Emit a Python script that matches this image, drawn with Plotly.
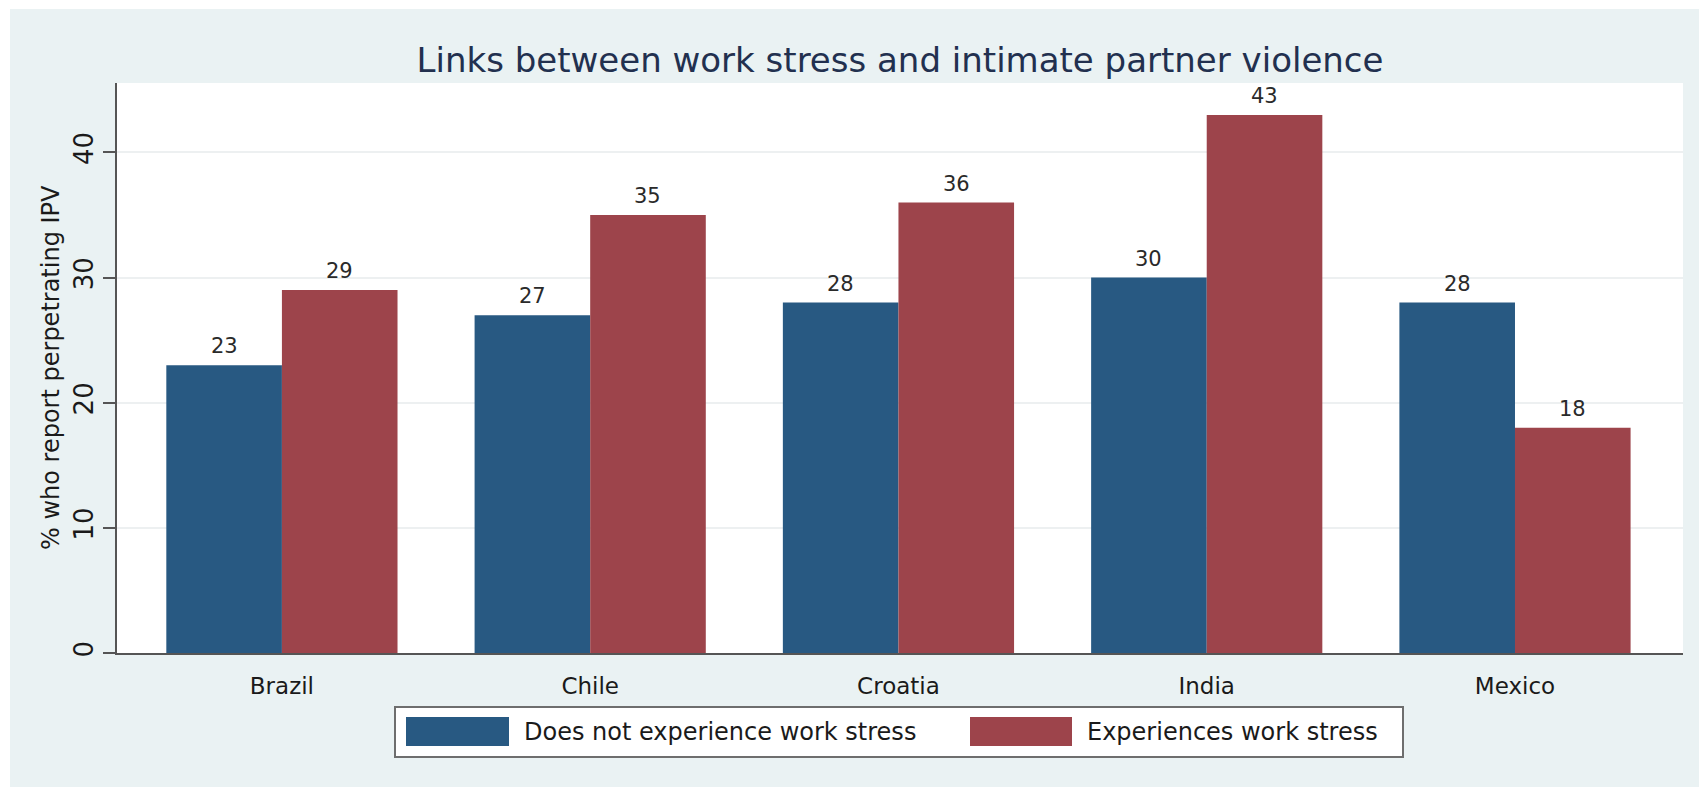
import plotly.graph_objects as go

# Data
countries = ["Brazil", "Chile", "Croatia", "India", "Mexico"]
no_stress = [23, 27, 28, 30, 28]
with_stress = [29, 35, 36, 43, 18]
series_names = ["Does not experience work stress", "Experiences work stress"]
y_ticks = [0, 10, 20, 30, 40]

title_text = "Links between work stress and intimate partner violence"
y_title = "% who report perpetrating IPV"

BLUE = "#285982"
RED = "#9d444b"
BG = "#eaf2f3"
FONT = "DejaVu Sans"

W, H = 1699, 787
M_L, M_R, M_T, M_B = 117, 16, 83, 134
PW, PH = W - M_L - M_R, H - M_T - M_B

X_RANGE = [-0.535, 4.545]
BARGAP = 0.25


def px_x(px):
    """Convert a horizontal pixel position to paper coordinates."""
    return (px - M_L) / PW


def px_y(py):
    """Convert a vertical pixel position (from top) to paper coordinates."""
    return (H - M_B - py) / PH


fig = go.Figure()
for name, vals, col in [(series_names[0], no_stress, BLUE),
                        (series_names[1], with_stress, RED)]:
    fig.add_trace(go.Bar(
        x=countries, y=vals, name=name,
        marker=dict(color=col, line=dict(width=0)),
        showlegend=False,
    ))

# Value labels above each bar, shifted to the centre of its bar within the group
cat_px = PW / (X_RANGE[1] - X_RANGE[0])
half_bar_px = cat_px * (1 - BARGAP) / 4
annotations = []
for vals, sign in [(no_stress, -1), (with_stress, 1)]:
    for c, v in zip(countries, vals):
        annotations.append(dict(
            x=c, y=v, xref="x", yref="y", text=str(v), showarrow=False,
            xanchor="center", yanchor="middle", xshift=sign * half_bar_px, yshift=19,
            font=dict(family=FONT, size=21, color="#2a2a2a"),
        ))

shapes = [
    # white border strips at the top and left edge of the canvas
    dict(type="rect", xref="paper", yref="paper", x0=px_x(0), x1=px_x(10),
         y0=px_y(H), y1=px_y(0), fillcolor="white", line=dict(width=0), layer="below"),
    dict(type="rect", xref="paper", yref="paper", x0=px_x(0), x1=px_x(W),
         y0=px_y(9), y1=px_y(0), fillcolor="white", line=dict(width=0), layer="below"),
    # legend frame
    dict(type="rect", xref="paper", yref="paper", x0=px_x(395), x1=px_x(1403),
         y0=px_y(757), y1=px_y(707), fillcolor="white",
         line=dict(color="#6e6e6e", width=2)),
    # legend swatches
    dict(type="rect", xref="paper", yref="paper", x0=px_x(406), x1=px_x(509),
         y0=px_y(746), y1=px_y(717), fillcolor=BLUE, line=dict(width=0)),
    dict(type="rect", xref="paper", yref="paper", x0=px_x(970), x1=px_x(1072),
         y0=px_y(746), y1=px_y(717), fillcolor=RED, line=dict(width=0)),
]

annotations += [
    dict(text=series_names[0], xref="paper", yref="paper", x=px_x(522), y=px_y(731.5),
         xanchor="left", yanchor="middle", showarrow=False,
         font=dict(family=FONT, size=24, color="#1a1a1a")),
    dict(text=series_names[1], xref="paper", yref="paper", x=px_x(1085), y=px_y(731.5),
         xanchor="left", yanchor="middle", showarrow=False,
         font=dict(family=FONT, size=24, color="#1a1a1a")),
    dict(text=y_title, xref="paper", yref="paper", x=px_x(51), y=0.5,
         xanchor="center", yanchor="middle", textangle=-90, showarrow=False,
         font=dict(family=FONT, size=24, color="#1a1a1a")),
]

fig.update_layout(
    width=W, height=H,
    margin=dict(l=M_L, r=M_R, t=M_T, b=M_B, pad=0),
    paper_bgcolor=BG, plot_bgcolor="white",
    barmode="group", bargap=BARGAP, bargroupgap=0,
    title=dict(text=title_text, x=0.5, xref="paper", xanchor="center",
               y=1 - 60 / H, yref="container", yanchor="middle",
               font=dict(family=FONT, size=34, color="#22304f")),
    font=dict(family=FONT, color="#1a1a1a"),
    shapes=shapes, annotations=annotations,
    showlegend=False,
)

fig.update_xaxes(
    type="category", range=X_RANGE,
    showline=True, linecolor="#555555", linewidth=2,
    ticks="", showgrid=False, ticklabelstandoff=11,
    tickfont=dict(family=FONT, size=23, color="#1a1a1a"),
)
fig.update_yaxes(
    range=[0, 45.55], tickvals=y_ticks, ticktext=[str(v) for v in y_ticks],
    tickangle=-90, ticks="outside", ticklen=12, tickwidth=2, tickcolor="#555555",
    showline=True, linecolor="#555555", linewidth=2,
    showgrid=True, gridcolor="#edf0f1", gridwidth=1.5, zeroline=False,
    ticklabelstandoff=0,
    tickfont=dict(family=FONT, size=26, color="#1a1a1a"),
)

fig.write_html("out.html")
